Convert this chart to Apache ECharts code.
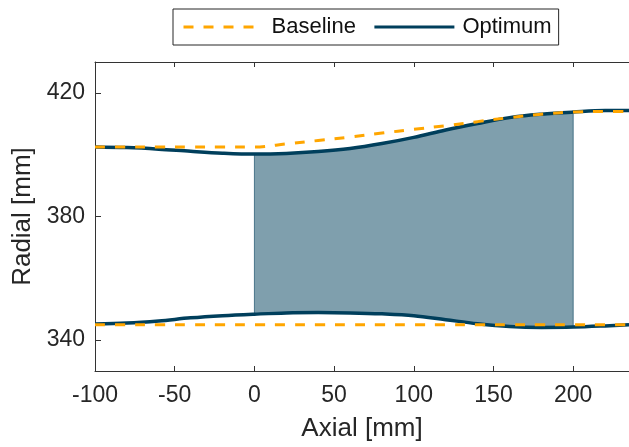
<!DOCTYPE html>
<html><head><meta charset="utf-8">
<script src="https://cdn.jsdelivr.net/npm/echarts@6/dist/echarts.min.js"></script>
<style>html,body{margin:0;padding:0;background:#fff}#c{width:629px;height:447px}</style>
</head><body><div id="c"></div><script>
const axialX        = [-100,-80,-60,-40,-20,0,20,40,60,80,100,120,140,160,180,200,220,235];
const baselineUpper = [402.5,402.5,402.5,402.5,402.5,402.5,403.5,404.6,405.7,407.0,408.2,409.4,410.7,412.0,413.1,413.8,414.0,414.0];
const baselineLower = [345.0,345.0,345.0,345.0,345.0,345.0,345.0,345.0,345.0,345.0,345.0,345.0,345.0,345.0,345.0,345.0,345.0,345.0];
const optimumUpper  = [402.5,402.3,401.8,401.1,400.5,400.2,400.4,401.0,402.0,403.6,405.6,408.0,410.1,412.0,413.1,413.8,414.3,414.3];
const optimumLower  = [345.2,345.5,346.2,347.2,347.9,348.4,348.8,348.9,348.8,348.5,347.9,346.6,345.3,344.4,344.1,344.2,344.6,345.0];
const fillRange = [0, 200];
const xTicks = [-100,-50,0,50,100,150,200];
const yTicks = [340,380,420];

const FONT = "'Liberation Sans', Arial, Helvetica, sans-serif";
const NAVY = '#003f5c', ORANGE = '#ffa600', AX = '#333333';
const pairs = (ys) => axialX.map((x, i) => [x, ys[i]]);

const chart = echarts.init(document.getElementById('c'), null, {renderer: 'canvas'});
const lineBase = {type: 'line', symbol: 'none', showSymbol: false, smooth: 0.35, animation: false};
chart.setOption({
  animation: false,
  textStyle: {fontFamily: FONT},
  grid: {left: 95, top: 62, right: 0, bottom: 76},
  legend: {
    data: ['Baseline', 'Optimum'],
    left: 173, top: 9,
    backgroundColor: '#fff', borderColor: '#262626', borderWidth: 1,
    padding: [7, 7, 7, 9],
    itemWidth: 80, itemHeight: 14, itemGap: 17,
    itemStyle: {opacity: 0},
    lineStyle: {width: 3},
    textStyle: {fontFamily: FONT, fontSize: 22, color: '#111', padding: [0, 0, 0, 3]}
  },
  xAxis: [{
    type: 'value', min: -100, max: 235,
    name: 'Axial [mm]', nameLocation: 'middle', nameGap: 45,
    nameTextStyle: {fontFamily: FONT, fontSize: 26, color: '#262626'},
    axisLine: {show: true, onZero: false, lineStyle: {color: AX, width: 1}},
    axisTick: {show: true, inside: true, length: 5, customValues: xTicks, lineStyle: {color: AX}},
    axisLabel: {customValues: xTicks, fontFamily: FONT, fontSize: 23, color: '#262626', margin: 13},
    splitLine: {show: false}
  }, {
    type: 'value', min: -100, max: 235, position: 'top',
    axisLine: {show: true, onZero: false, lineStyle: {color: AX, width: 1}},
    axisTick: {show: true, inside: true, length: 5, customValues: xTicks, lineStyle: {color: AX}},
    axisLabel: {show: false},
    splitLine: {show: false}
  }],
  yAxis: {
    type: 'value', min: 330, max: 430,
    name: 'Radial [mm]', nameLocation: 'middle', nameGap: 49,
    nameTextStyle: {fontFamily: FONT, fontSize: 26, color: '#262626'},
    axisLine: {show: true, onZero: false, lineStyle: {color: AX, width: 1}},
    axisTick: {show: true, inside: true, length: 6, customValues: yTicks, lineStyle: {color: AX}},
    axisLabel: {customValues: yTicks, fontFamily: FONT, fontSize: 23, color: '#262626', margin: 10, padding: [6, 0, 0, 0]},
    splitLine: {show: false}
  },
  series: [{
    type: 'custom', name: 'fill', coordinateSystem: 'cartesian2d', z: 1, silent: true,
    data: [[fillRange[0], optimumLower[0]]],
    renderItem: function (params, api) {
      const pts = [];
      for (let i = 0; i < axialX.length; i++) {
        if (axialX[i] >= fillRange[0] && axialX[i] <= fillRange[1]) pts.push(api.coord([axialX[i], optimumUpper[i]]));
      }
      for (let i = axialX.length - 1; i >= 0; i--) {
        if (axialX[i] >= fillRange[0] && axialX[i] <= fillRange[1]) pts.push(api.coord([axialX[i], optimumLower[i]]));
      }
      return {type: 'polygon', shape: {points: pts},
        style: {fill: 'rgba(0,63,92,0.5)', stroke: 'rgba(0,63,92,0.6)', lineWidth: 1}};
    }
  },
  Object.assign({}, lineBase, {name: 'Optimum', z: 3, data: pairs(optimumUpper), lineStyle: {color: NAVY, width: 3.5}, itemStyle: {color: NAVY}}),
  Object.assign({}, lineBase, {name: 'Optimum', z: 3, data: pairs(optimumLower), lineStyle: {color: NAVY, width: 3.5}, itemStyle: {color: NAVY}}),
  Object.assign({}, lineBase, {name: 'Baseline', z: 4, data: pairs(baselineUpper), lineStyle: {color: ORANGE, width: 3, type: [10, 10]}, itemStyle: {color: ORANGE}}),
  Object.assign({}, lineBase, {name: 'Baseline', z: 4, data: pairs(baselineLower), lineStyle: {color: ORANGE, width: 3, type: [10, 10]}, itemStyle: {color: ORANGE}})
  ]
});
</script></body></html>
